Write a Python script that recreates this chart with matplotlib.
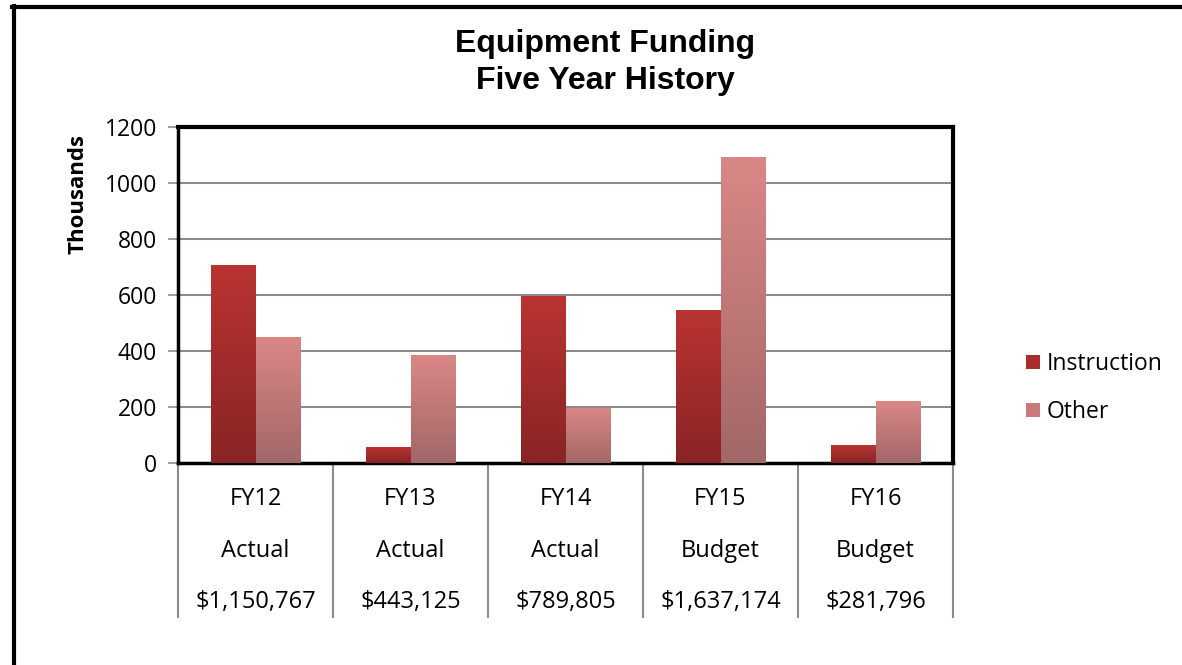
import numpy as np
import matplotlib
matplotlib.use("Agg")
import matplotlib.pyplot as plt
from matplotlib.colors import LinearSegmentedColormap
from matplotlib.lines import Line2D
from matplotlib.patches import Patch
import matplotlib.transforms as mtransforms

categories = ["FY12", "FY13", "FY14", "FY15", "FY16"]
status = ["Actual", "Actual", "Actual", "Budget", "Budget"]
totals = ["$1,150,767", "$443,125", "$789,805", "$1,637,174", "$281,796"]
instruction = [707, 57, 595, 546, 63]
other = [450, 386, 197, 1093, 220]
series_names = ["Instruction", "Other"]

FONT = "Open Sans"
W, H = 1182, 665
fig = plt.figure(figsize=(W / 100, H / 100), dpi=100)
fig.patch.set_facecolor("white")

left, right, top, bottom = 178, 953, 127, 463
ax = fig.add_axes([left / W, 1 - bottom / H, (right - left) / W, (bottom - top) / H])

x = np.arange(len(categories))
bw = 0.287
grad = {
    "Instruction": ((0.725, 0.204, 0.196), (0.537, 0.141, 0.141)),
    "Other": ((0.855, 0.533, 0.525), (0.635, 0.404, 0.404)),
}

bars_i = ax.bar(x - bw / 2, instruction, bw, color="none", linewidth=0, zorder=3)
bars_o = ax.bar(x + bw / 2, other, bw, color="none", linewidth=0, zorder=3)

for bars, name in ((bars_i, "Instruction"), (bars_o, "Other")):
    ctop, cbot = grad[name]
    cmap = LinearSegmentedColormap.from_list(name, [cbot, ctop])
    g = np.linspace(0, 1, 256).reshape(-1, 1)
    for r in bars:
        x0, y0 = r.get_x(), r.get_y()
        w, h = r.get_width(), r.get_height()
        im = ax.imshow(g, cmap=cmap, origin="lower", aspect="auto",
                       extent=(x0, x0 + w, y0, y0 + h), zorder=3)
        im.set_clip_path(r)

ax.set_xlim(-0.5, len(categories) - 0.5)
ax.set_ylim(0, 1200)
ax.set_yticks(np.arange(0, 1201, 200))
ax.set_yticklabels([str(v) for v in range(0, 1201, 200)], fontfamily=FONT, fontsize=16.5)
ax.set_xticks([])
ax.yaxis.grid(True, color="#8c8c8c", linewidth=1.5, zorder=1)
ax.set_axisbelow(True)
ax.tick_params(axis="y", direction="out", length=7, width=1.2, color="#8c8c8c", pad=8)

for s in ["top", "right"]:
    ax.spines[s].set_linewidth(3)
    ax.spines[s].set_color("black")
for s in ["left", "bottom"]:
    ax.spines[s].set_linewidth(2.5)
    ax.spines[s].set_color("black")

ph = bottom - top
def yfrac(py):
    return (bottom - py) / ph

ax.set_ylabel("Thousands", fontfamily=FONT, fontweight="bold", fontsize=16)
ax.yaxis.set_label_coords((88 - left) / (right - left), yfrac(194))

# table under the axis
trans = mtransforms.blended_transform_factory(ax.transData, ax.transAxes)
for k in range(len(categories) + 1):
    ax.add_line(Line2D([k - 0.5, k - 0.5], [0, yfrac(617)], transform=trans,
                       color="#8c8c8c", linewidth=1.5, clip_on=False))
for i in range(len(categories)):
    for row, py in ((categories, 499), (status, 551), (totals, 602)):
        ax.text(i, yfrac(py), row[i], transform=trans, ha="center", va="center",
                fontfamily=FONT, fontsize=17, color="black")

# title
fig.text(605 / W, 1 - 44 / H, "Equipment Funding", ha="center", va="center",
         fontfamily="Liberation Sans", fontweight="bold", fontsize=23)
fig.text(605 / W, 1 - 81 / H, "Five Year History", ha="center", va="center",
         fontfamily="Liberation Sans", fontweight="bold", fontsize=23)

# legend
handles = [Patch(facecolor=(0.66, 0.18, 0.17)), Patch(facecolor=(0.78, 0.48, 0.47))]
leg = fig.legend(handles, series_names, loc="center left",
                 bbox_to_anchor=(1015 / W, 1 - 388 / H), frameon=False,
                 prop={"family": FONT, "size": 16.5}, handlelength=0.6, handleheight=0.6,
                 handletextpad=0.3, labelspacing=1.05, borderpad=0)

# outer border (left and top)
fig.add_artist(Line2D([13.5 / W, 13.5 / W], [0, 1 - 5.5 / H], transform=fig.transFigure,
                      color="black", linewidth=3))
fig.add_artist(Line2D([12 / W, 1], [1 - 6.5 / H, 1 - 6.5 / H], transform=fig.transFigure,
                      color="black", linewidth=3))

fig.savefig("out.png", dpi=100, facecolor="white")
